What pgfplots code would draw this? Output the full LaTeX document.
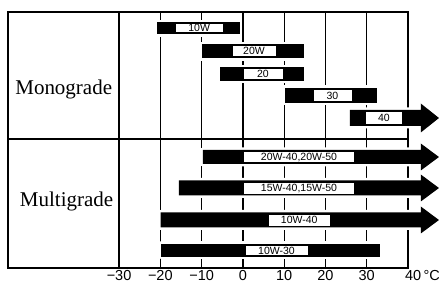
\documentclass[border=0pt]{standalone}
\usepackage{pgfplots}
\pgfplotsset{compat=1.18}
\usepackage{fontspec}
\setmainfont{Liberation Serif}
\newfontfamily\sans{Liberation Sans}
\tikzset{
 barfill/.style={fill=black, draw=none, preaction={draw=white, line width=5pt, line join=round}},
 lbox/.style={fill=white, draw=black, line width=0.6pt},
 ltext/.style={font=\sans\fontsize{10.5}{10.5}\selectfont, inner sep=0pt, text depth=0pt}
}
\begin{document}
\begin{tikzpicture}
\begin{axis}[
 set layers,
 scale only axis, width=400pt, height=256pt,
 xmin=-56.9, xmax=40, ymin=0, ymax=256,
 xtick={-30,-20,-10,0,10,20,30,40},
 xticklabels={−30,−20,−10,0,10,20,30,\rlap{\hspace*{-3pt}40\,°C}},
 ytick={129}, yticklabels={},
 xmajorgrids, ymajorgrids,
 major grid style={black, line width=1.3pt},
 axis line style={line width=1.8pt},
 major tick length=0pt,
 clip=false,
 xticklabel style={font=\sans\fontsize{14.5}{14.5}\selectfont, inner sep=0pt, anchor=north, yshift=-2pt},
]
% Monograde
\addplot[barfill] coordinates {(-20.7,234)(-0.7,234)(-0.7,246)(-20.7,246)} --cycle;
\addplot[lbox] coordinates {(-16.4,235.5)(-4.8,235.5)(-4.8,244.5)(-16.4,244.5)} --cycle;
\node[ltext] at (axis cs:-10.6,240) {10W};

\addplot[barfill] coordinates {(-10,210)(14.8,210)(14.8,224)(-10,224)} --cycle;
\addplot[lbox] coordinates {(-2.6,211.5)(8.0,211.5)(8.0,222.5)(-2.6,222.5)} --cycle;
\node[ltext] at (axis cs:2.7,217) {20W};

\addplot[barfill] coordinates {(-5.5,187)(14.8,187)(14.8,201)(-5.5,201)} --cycle;
\addplot[lbox] coordinates {(0,188.5)(9.7,188.5)(9.7,199.5)(0,199.5)} --cycle;
\node[ltext] at (axis cs:4.85,194) {20};

\addplot[barfill] coordinates {(10.2,165)(32.5,165)(32.5,180)(10.2,180)} --cycle;
\addplot[lbox] coordinates {(17.0,166.5)(26.4,166.5)(26.4,178.5)(17.0,178.5)} --cycle;
\node[ltext] at (axis cs:21.7,172.5) {30};

\addplot[barfill] coordinates {(25.9,142)(43.1,142)(43.1,135.5)(47.5,150)(43.1,164.5)(43.1,158)(25.9,158)} --cycle;
\addplot[lbox] coordinates {(29.6,143.5)(38.7,143.5)(38.7,156.5)(29.6,156.5)} --cycle;
\node[ltext] at (axis cs:34.15,150) {40};

% Multigrade
\addplot[barfill] coordinates {(-9.7,104)(43.1,104)(43.1,97.5)(47.5,111)(43.1,124.5)(43.1,118)(-9.7,118)} --cycle;
\addplot[lbox] coordinates {(0.1,105.5)(27.1,105.5)(27.1,116.5)(0.1,116.5)} --cycle;
\node[ltext] at (axis cs:13.6,111) {20W-40,20W-50};

\addplot[barfill] coordinates {(-15.5,72.5)(43.1,72.5)(43.1,66.5)(47.5,80)(43.1,93.5)(43.1,87.5)(-15.5,87.5)} --cycle;
\addplot[lbox] coordinates {(0.1,74)(27.1,74)(27.1,86)(0.1,86)} --cycle;
\node[ltext] at (axis cs:13.6,80) {15W-40,15W-50};

\addplot[barfill] coordinates {(-19.9,40.5)(43.1,40.5)(43.1,34.5)(47.5,48)(43.1,61.5)(43.1,55.5)(-19.9,55.5)} --cycle;
\addplot[lbox] coordinates {(6.2,42)(21.1,42)(21.1,54)(6.2,54)} --cycle;
\node[ltext] at (axis cs:13.65,48) {10W-40};

\addplot[barfill] coordinates {(-19.8,11)(33.2,11)(33.2,24)(-19.8,24)} --cycle;
\addplot[lbox] coordinates {(0.5,12.5)(15.8,12.5)(15.8,22.5)(0.5,22.5)} --cycle;
\node[ltext] at (axis cs:8.15,17.5) {10W-30};

\node[anchor=base, font=\fontsize{21}{21}\selectfont] at (axis cs:-43.4,174) {Monograde};
\node[anchor=base, font=\fontsize{21}{21}\selectfont] at (axis cs:-42.7,61) {Multigrade};

\coordinate (bl) at (axis cs:-58.84,-14);
\coordinate (tr) at (axis cs:47.51,268);
\end{axis}
\pgfresetboundingbox
\path[use as bounding box] (bl) rectangle (tr);
\end{tikzpicture}
\end{document}
